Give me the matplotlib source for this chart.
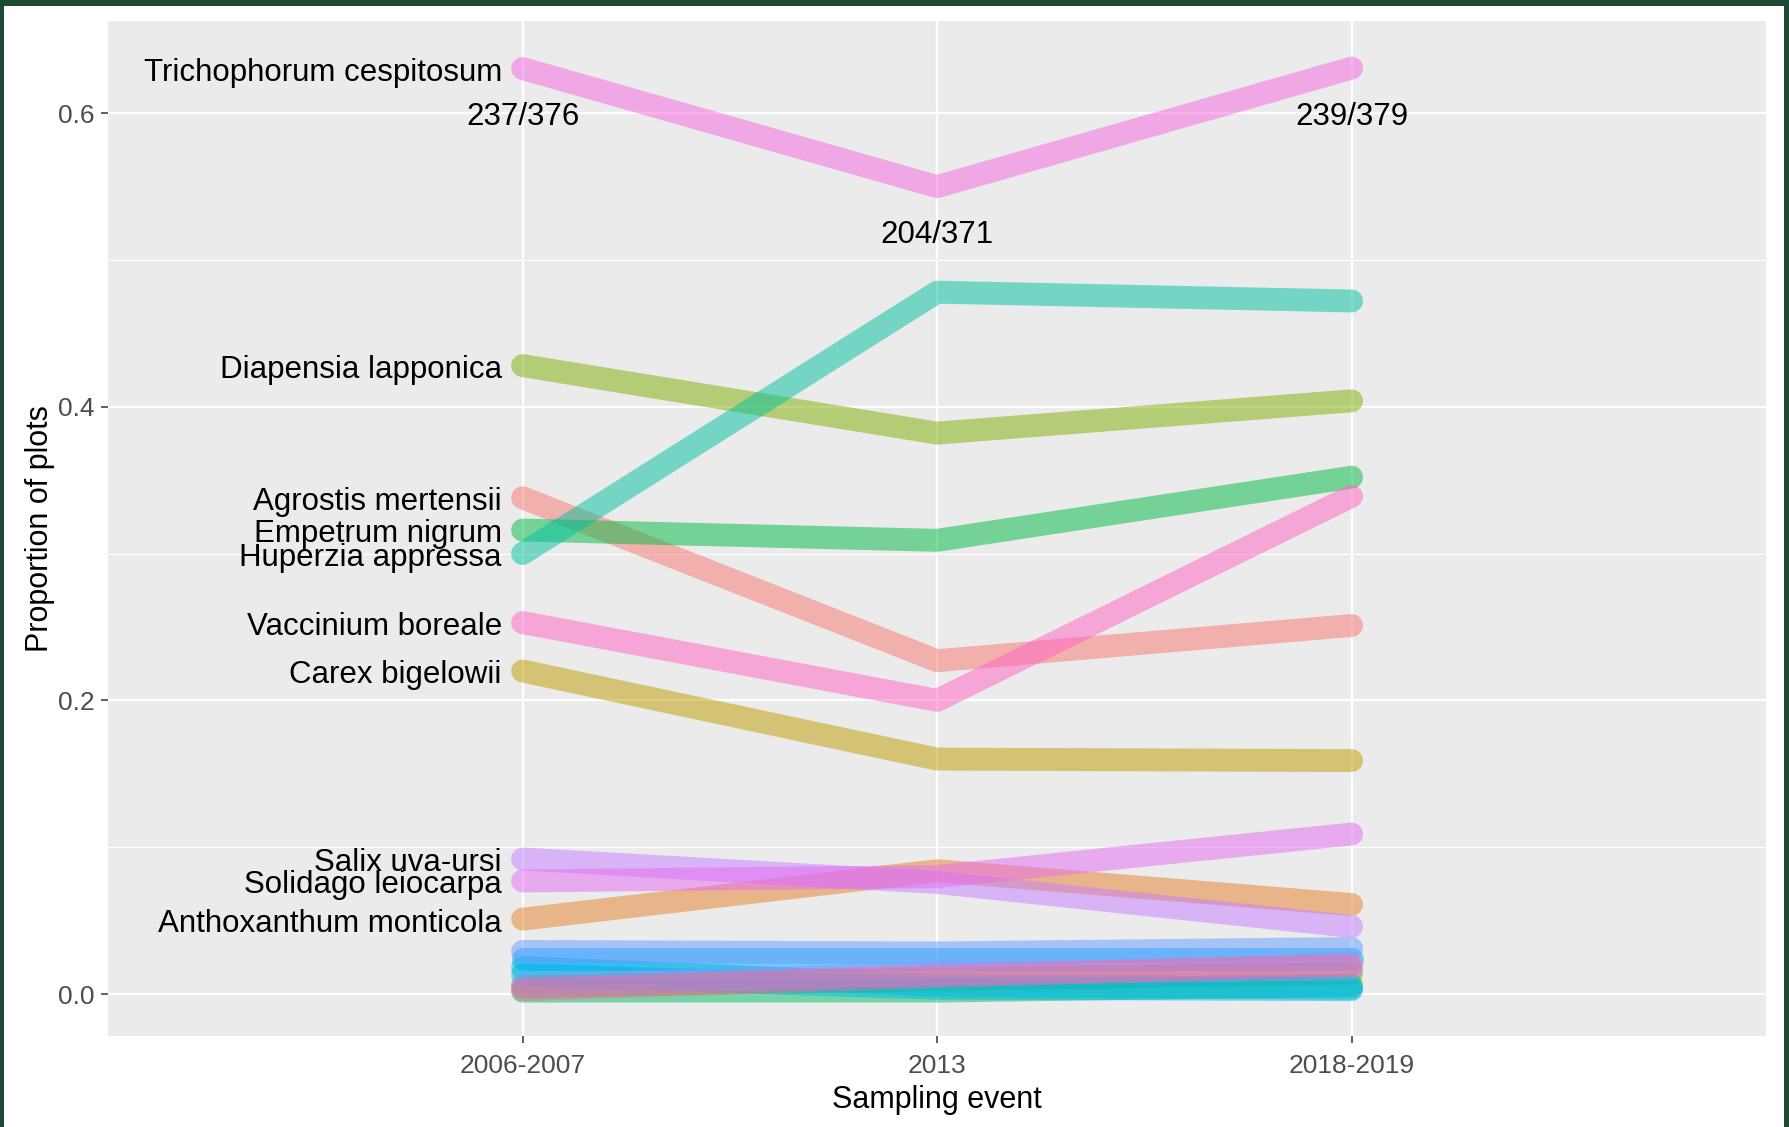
import matplotlib
matplotlib.use("Agg")
import matplotlib.pyplot as plt
from matplotlib.patches import Rectangle

plt.rcParams['font.family'] = ['Liberation Sans', 'DejaVu Sans']

# sampling events on the x axis
events = ['2006-2007', '2013', '2018-2019']

# Trichophorum counts (plots present / plots sampled)
tri_present = [237, 204, 239]
tri_total = [376, 371, 379]

# labelled species, proportion of plots at each event
agrostis = [0.338, 0.227, 0.251]
anthoxanthum = [0.051, 0.084, 0.061]
carex = [0.220, 0.160, 0.159]
diapensia = [0.428, 0.382, 0.404]
empetrum = [0.316, 0.309, 0.352]
huperzia = [0.300, 0.478, 0.472]
salix = [0.092, 0.076, 0.046]
solidago = [0.077, 0.080, 0.109]
trichophorum = [p / t for p, t in zip(tri_present, tri_total)]
vaccinium = [0.253, 0.200, 0.339]

# rare species near zero (not labelled on the chart)
rare_1 = [0.002, 0.002, 0.006]
rare_2 = [0.005, 0.010, 0.014]
rare_3 = [0.018, 0.006, 0.004]
rare_4 = [0.013, 0.004, 0.003]
rare_5 = [0.024, 0.024, 0.024]
rare_6 = [0.029, 0.028, 0.031]
rare_7 = [0.006, 0.014, 0.017]
rare_8 = [0.003, 0.012, 0.020]

series = [
    ('Agrostis mertensii', agrostis, '#F8766D', True),
    ('Anthoxanthum monticola', anthoxanthum, '#E7812B', True),
    ('Carex bigelowii', carex, '#BE9C00', True),
    ('', rare_2, '#A3A500', False),
    ('Diapensia lapponica', diapensia, '#7CAE00', True),
    ('', rare_1, '#00BE67', False),
    ('Empetrum nigrum', empetrum, '#00BA42', True),
    ('Huperzia appressa', huperzia, '#00C1A0', True),
    ('', rare_3, '#00BFC4', False),
    ('', rare_4, '#00B8E7', False),
    ('', rare_5, '#00A9FF', False),
    ('', rare_6, '#619CFF', False),
    ('', rare_7, '#9590FF', False),
    ('Salix uva-ursi', salix, '#C77CFF', True),
    ('Solidago leiocarpa', solidago, '#E76BF3', True),
    ('Trichophorum cespitosum', trichophorum, '#F564E3', True),
    ('', rare_8, '#FF67A4', False),
    ('Vaccinium boreale', vaccinium, '#FF61C3', True),
]

x = [1, 2, 3]

W, H = 1789, 1127
fig = plt.figure(figsize=(W / 100, H / 100), dpi=100)
fig.patch.set_facecolor('white')

# dark green frame on left, top and right edges
green = '#1d4a31'
fig.add_artist(Rectangle((0, 0), 4 / W, 1, transform=fig.transFigure,
                         color=green, lw=0))
fig.add_artist(Rectangle((0, 1 - 6 / H), 1, 6 / H, transform=fig.transFigure,
                         color=green, lw=0))
fig.add_artist(Rectangle((1 - 5 / W, 0), 5 / W, 1, transform=fig.transFigure,
                         color=green, lw=0))

ax = fig.add_axes([0.0604, 0.0807, 0.9268, 0.9007])
ax.set_facecolor('#EBEBEB')
for s in ax.spines.values():
    s.set_visible(False)

for name, vals, col, lab in series:
    ax.plot(x, vals, color=col, alpha=0.5, lw=16.5,
            solid_capstyle='round', solid_joinstyle='round')
    if lab:
        ax.text(0.95, vals[0] - 0.003, name, ha='right', va='center',
                fontsize=22.5, color='black')

for xi, p, t, v in zip(x, tri_present, tri_total, trichophorum):
    ax.text(xi, v - 0.033, f'{p}/{t}', ha='center', va='center',
            fontsize=22.5, color='black')

ax.set_xlim(0, 4)
ax.set_ylim(-0.0286, 0.6627)
ax.set_xticks(x)
ax.set_xticklabels(events)
ax.set_yticks([0.0, 0.2, 0.4, 0.6])
ax.set_yticklabels(['0.0', '0.2', '0.4', '0.6'])
ax.set_yticks([0.1, 0.3, 0.5], minor=True)
ax.tick_params(which='major', length=5, width=1.1, color='#333333',
               labelsize=19, labelcolor='#4D4D4D', pad=5)
ax.tick_params(axis='x', which='major', pad=8)
ax.tick_params(which='minor', length=0)
ax.set_axisbelow(True)
ax.grid(which='major', color='white', lw=1.6)
ax.grid(which='minor', axis='y', color='white', lw=0.8)

ax.set_xlabel('Sampling event', fontsize=22, color='black', labelpad=5)
ax.set_ylabel('Proportion of plots', fontsize=22, color='black', labelpad=2)

fig.savefig('out.png', dpi=100)
